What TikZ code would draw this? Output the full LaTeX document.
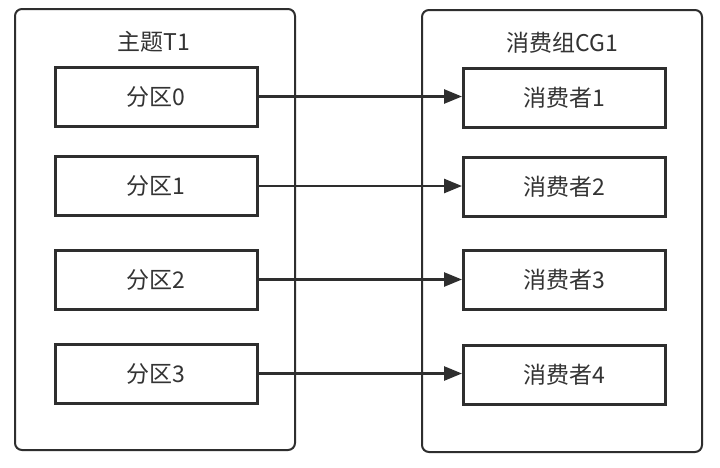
\documentclass[tikz,border=0pt]{standalone}
\usepackage{fontspec}
\setmainfont{Noto Sans CJK SC}
\usetikzlibrary{arrows.meta}
\definecolor{ink}{HTML}{2E2E2E}
\definecolor{txt}{HTML}{333333}
\begin{document}
\begin{tikzpicture}[x=1pt,y=-1pt,
  container/.style={draw=ink,line width=2pt,rounded corners=7pt},
  itembox/.style={draw=ink,line width=3pt,minimum width=202pt,minimum height=59pt,inner sep=0pt,font=\fontsize{23}{25}\selectfont,text=txt},
  title/.style={font=\fontsize{23}{25}\selectfont,text=txt},
  link/.style={draw=ink,line width=2.6pt,-{Triangle[length=18pt,width=14pt]}}]
\useasboundingbox (0,0) rectangle (720,467);
\fill[white] (0,0) rectangle (720,467);
\draw[container] (15,9) rectangle (295,450);
\draw[container] (422,10) rectangle (702,452);
\node[title] (t1) at (154,42) {主题T1};
\node[title] (cg1) at (562,43) {消费组CG1};
\node[itembox] (p0) at (156,96.5) {分区0};
\node[itembox] (p1) at (156,186) {分区1};
\node[itembox] (p2) at (156,279.5) {分区2};
\node[itembox] (p3) at (156,373.5) {分区3};
\node[itembox] (c0) at (564.5,97.5) {消费者1};
\node[itembox] (c1) at (564.5,186.5) {消费者2};
\node[itembox] (c2) at (564.5,280) {消费者3};
\node[itembox] (c3) at (564.5,375) {消费者4};
\draw[link] (p0.east) -- (c0.west |- p0.east);
\draw[link] (p1.east) -- (c1.west |- p1.east);
\draw[link] (p2.east) -- (c2.west |- p2.east);
\draw[link] (p3.east) -- (c3.west |- p3.east);
\end{tikzpicture}
\end{document}
